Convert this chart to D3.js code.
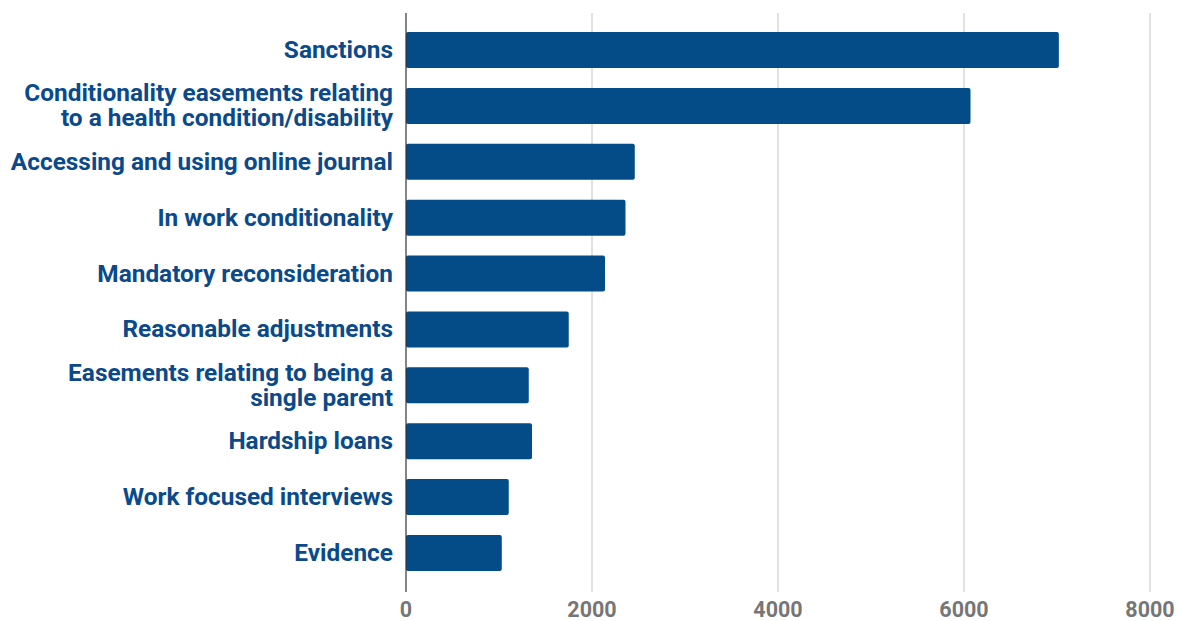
<!DOCTYPE html>
<html>
<head>
<meta charset="utf-8">
<script src="https://cdn.jsdelivr.net/npm/d3@7"></script>
<style>
  body { margin: 0; background: #fff; }
  svg text { font-family: Roboto, "Noto Sans", sans-serif; font-weight: 700; }
</style>
</head>
<body>
<div id="chart"></div>
<script>
// categories (label lines) and values, top to bottom
const CATEGORIES = [
  ["Sanctions"],
  ["Conditionality easements relating", "to a health condition/disability"],
  ["Accessing and using online journal"],
  ["In work conditionality"],
  ["Mandatory reconsideration"],
  ["Reasonable adjustments"],
  ["Easements relating to being a", "single parent"],
  ["Hardship loans"],
  ["Work focused interviews"],
  ["Evidence"],
];
const VALUES = [7020, 6070, 2460, 2360, 2140, 1750, 1320, 1355, 1105, 1030];
const X_TICKS = [0, 2000, 4000, 6000, 8000];

const W = 1182, H = 621;
const PLOT = { left: 406, right: 1150, top: 13, bottom: 592 };
const BAR_COLOR = "#044c88";

const svg = d3.select("#chart").append("svg")
  .attr("width", W).attr("height", H);

const x = d3.scaleLinear().domain([0, 8000]).range([PLOT.left, PLOT.right]);
const y = d3.scaleBand()
  .domain(CATEGORIES.map((d, i) => i))
  .range([22, 581])
  .paddingInner(0.355)
  .paddingOuter(0.18);

// gridlines
svg.append("g")
  .selectAll("line")
  .data(X_TICKS.slice(1))
  .join("line")
  .attr("x1", d => x(d)).attr("x2", d => x(d))
  .attr("y1", PLOT.top).attr("y2", PLOT.bottom)
  .attr("stroke", "#c4c4c4").attr("stroke-width", 1);

// bars
svg.append("g")
  .selectAll("rect")
  .data(VALUES)
  .join("rect")
  .attr("x", x(0))
  .attr("y", (d, i) => y(i))
  .attr("width", d => x(d) - x(0))
  .attr("height", y.bandwidth())
  .attr("rx", 2)
  .attr("fill", BAR_COLOR);

// zero axis line
svg.append("line")
  .attr("x1", x(0)).attr("x2", x(0))
  .attr("y1", PLOT.top).attr("y2", PLOT.bottom)
  .attr("stroke", "#333").attr("stroke-width", 1.2);

// x tick labels
svg.append("g")
  .selectAll("text")
  .data(X_TICKS)
  .join("text")
  .attr("x", d => x(d))
  .attr("y", 617)
  .attr("text-anchor", "middle")
  .attr("fill", "#767676")
  .attr("font-size", 21.5)
  .text(d => d);

// category labels
const lab = svg.append("g")
  .selectAll("text")
  .data(CATEGORIES)
  .join("text")
  .attr("text-anchor", "end")
  .attr("fill", "#0b4a8a")
  .attr("font-size", 24.4);

lab.each(function (lines, i) {
  const cy = y(i) + y.bandwidth() / 2;
  const lh = 25;
  const y0 = cy - (lines.length - 1) * lh / 2 + 8;
  d3.select(this).selectAll("tspan")
    .data(lines)
    .join("tspan")
    .attr("x", 393)
    .attr("y", (d, j) => y0 + j * lh)
    .text(d => d);
});
</script>
</body>
</html>
